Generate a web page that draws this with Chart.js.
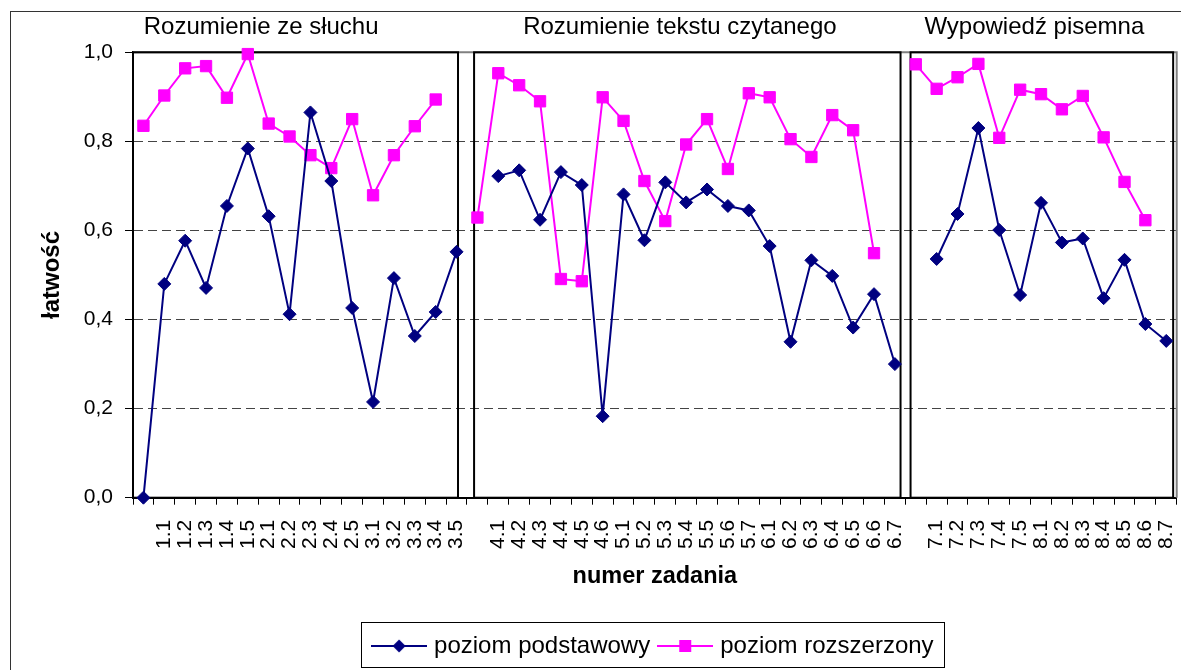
<!DOCTYPE html>
<html><head><meta charset="utf-8">
<script src="https://cdn.jsdelivr.net/npm/chart.js@4"></script>
<style>html,body{margin:0;padding:0;background:#fff}canvas{display:block}</style>
</head><body>
<canvas id="c" width="1181" height="670"></canvas>
<script>
// ---- data ----
const categories = ["",
  "1.1","1.2","1.3","1.4","1.5","2.1","2.2","2.3","2.4","2.5","3.1","3.2","3.3","3.4","3.5",
  "",
  "4.1","4.2","4.3","4.4","4.5","4.6","5.1","5.2","5.3","5.4","5.5","5.6","5.7","6.1","6.2","6.3","6.4","6.5","6.6","6.7",
  "",
  "7.1","7.2","7.3","7.4","7.5","8.1","8.2","8.3","8.4","8.5","8.6","8.7"];
const podstawowy = [0.000,
  0.480,0.577,0.471,0.655,0.784,0.632,0.412,0.865,0.711,0.426,0.215,0.493,0.363,0.417,0.552,
  null,
  0.722,0.735,0.624,0.731,0.702,0.183,0.681,0.578,0.708,0.663,0.692,0.655,0.645,0.565,0.350,0.533,0.498,0.382,0.457,0.300,
  null,
  0.536,0.637,0.830,0.601,0.455,0.662,0.573,0.582,0.448,0.534,0.390,0.352];
const rozszerzony = [0.835,
  0.903,0.964,0.969,0.898,0.996,0.840,0.811,0.769,0.740,0.850,0.679,0.769,0.834,0.894,null,
  0.629,
  0.953,0.926,0.890,0.491,0.486,0.899,0.846,0.711,0.621,0.793,0.850,0.738,0.908,0.899,0.805,0.765,0.859,0.825,0.549,null,
  0.973,
  0.918,0.944,0.974,0.808,0.916,0.906,0.872,0.902,0.809,0.709,0.623,null];
const seriesNames = ["poziom podstawowy", "poziom rozszerzony"];
const yTickValues = [0, 0.2, 0.4, 0.6, 0.8, 1.0];
const panelTitles = ["Rozumienie ze słuchu", "Rozumienie tekstu czytanego", "Wypowiedź pisemna"];

// ---- layout / style config (category-index units) ----
const panelRanges = [[-0.5, 15.07], [15.84, 36.27], [36.75, 49.33]];
const panelTitleCenters = [5.64, 25.7, 42.68];
const FONT = '"Liberation Sans", Arial, sans-serif';
const BLUE = '#000080', PINK = '#FF00FF';
const LEGEND_PAD = 12, LEGEND_FONT = 24, LEGEND_H = LEGEND_FONT + LEGEND_PAD + 10;
const CHART_BOTTOM = 497.7;

Chart.defaults.font.family = FONT;
Chart.defaults.color = '#000';

function swatch(color, kind, r) {
  const c = document.createElement('canvas');
  c.width = 56; c.height = 20;
  const g = c.getContext('2d');
  g.strokeStyle = color; g.lineWidth = 2;
  g.beginPath(); g.moveTo(0, 10); g.lineTo(56, 10); g.stroke();
  g.fillStyle = color;
  if (kind === 'diamond') {
    g.beginPath(); g.moveTo(28, 10 - r); g.lineTo(28 + r, 10); g.lineTo(28, 10 + r); g.lineTo(28 - r, 10); g.closePath(); g.fill();
  } else {
    g.fillRect(28 - r, 10 - r, 2 * r, 2 * r);
  }
  return c;
}
const swatches = [swatch(BLUE, 'diamond', 6.5), swatch(PINK, 'square', 6)];

const decor = {
  id: 'decor',
  beforeDatasetsDraw(chart) {
    const {ctx, chartArea: a, scales: {x, y}} = chart;
    ctx.save();
    ctx.strokeStyle = '#808080'; ctx.lineWidth = 2;
    ctx.beginPath(); ctx.moveTo(a.left, a.top); ctx.lineTo(a.right, a.top); ctx.lineTo(a.right, a.bottom); ctx.stroke();
    ctx.strokeStyle = '#000'; ctx.lineWidth = 2;
    const yt = y.getPixelForValue(1), yb = y.getPixelForValue(0);
    panelRanges.forEach(([f, t]) => {
      const x0 = x.getPixelForValue(f), x1 = x.getPixelForValue(t);
      ctx.strokeRect(x0, yt, x1 - x0, yb - yt);
    });
    ctx.restore();
  },
  afterDraw(chart) {
    const {ctx, scales: {x, y}} = chart;
    ctx.save();
    ctx.fillStyle = '#000';
    ctx.font = '24px ' + FONT;
    ctx.textAlign = 'center'; ctx.textBaseline = 'middle';
    const ty = y.getPixelForValue(1) - 25;
    panelTitles.forEach((t, i) => ctx.fillText(t, x.getPixelForValue(panelTitleCenters[i]), ty));
    ctx.strokeStyle = '#333'; ctx.lineWidth = 1;
    ctx.strokeRect(10.5, 11.5, 1400, 900);
    const L = chart.legend, hb = L.legendHitBoxes;
    const last = hb[hb.length - 1];
    const l = hb[0].left - 15, r = last.left + last.width + 10;
    ctx.strokeStyle = '#000';
    ctx.strokeRect(Math.round(l) + 0.5, Math.round(L.top) + 0.5, Math.round(r - l), Math.round(L.bottom - L.top) - 1);
    ctx.restore();
  }
};

const noPad = () => ({left: 0, top: 0, right: 0, bottom: 0});

new Chart(document.getElementById('c'), {
  type: 'line',
  data: {
    labels: categories,
    datasets: [
      {label: seriesNames[0], data: podstawowy, borderColor: BLUE, backgroundColor: BLUE, borderWidth: 2,
       pointStyle: 'rectRot', pointRadius: 6.5, pointBorderWidth: 1, spanGaps: false, clip: false, tension: 0},
      {label: seriesNames[1], data: rozszerzony, borderColor: PINK, backgroundColor: PINK, borderWidth: 2,
       pointStyle: 'rect', pointRadius: 8, pointBorderWidth: 1, spanGaps: false, clip: false, tension: 0}
    ]
  },
  options: {
    responsive: false,
    animation: false,
    devicePixelRatio: 1,
    layout: {autoPadding: false, padding: {left: 0, top: 52.3, right: 4.3, bottom: 2}},
    scales: {
      x: {
        type: 'category',
        offset: true,
        grid: {offset: true, drawOnChartArea: false, drawTicks: true, tickLength: 7, tickColor: '#000', tickWidth: 1},
        border: {color: '#000', width: 2},
        ticks: {autoSkip: false, maxRotation: 90, minRotation: 90, padding: 15, color: '#000', font: {size: 21}},
        title: {display: true, text: 'numer zadania', font: {size: 23.5, weight: 'bold'}, color: '#000', padding: {top: 0, bottom: 31.2}},
        afterFit(s) {
          s.height = s.chart.height - 2 - LEGEND_H - CHART_BOTTOM;
          s.paddingLeft = 0; s.paddingRight = 0;
          s.getPadding = noPad;
        }
      },
      y: {
        min: 0, max: 1,
        afterBuildTicks(s) { s.ticks = yTickValues.map(v => ({value: v})); },
        ticks: {padding: 12, color: '#000', font: {size: 21}, callback: v => v.toFixed(1).replace('.', ',')},
        grid: {
          color: c => (c.tick && (c.tick.value === 0 || c.tick.value === 1)) ? 'rgba(0,0,0,0)' : '#444',
          lineWidth: 1, drawTicks: true, tickLength: 8, tickColor: '#000', tickWidth: 1
        },
        border: {color: '#000', width: 2, dash: [9, 5]},
        title: {display: true, text: 'łatwość', font: {size: 24, weight: 'bold'}, color: '#000', padding: {top: 37.6, bottom: 0}},
        afterFit(s) { s.width = 133; s.paddingTop = 0; s.paddingBottom = 0; s.getPadding = noPad; }
      }
    },
    plugins: {
      legend: {
        position: 'bottom',
        fullSize: false,
        labels: {
          usePointStyle: true, pointStyleWidth: 46, padding: LEGEND_PAD, color: '#000', font: {size: LEGEND_FONT},
          generateLabels: chart => chart.data.datasets.map((d, i) => ({
            text: d.label, fillStyle: d.borderColor, strokeStyle: d.borderColor, lineWidth: 0,
            pointStyle: swatches[i], hidden: false, datasetIndex: i
          }))
        }
      },
      tooltip: {enabled: false}
    }
  },
  plugins: [decor]
});
</script>
</body></html>
